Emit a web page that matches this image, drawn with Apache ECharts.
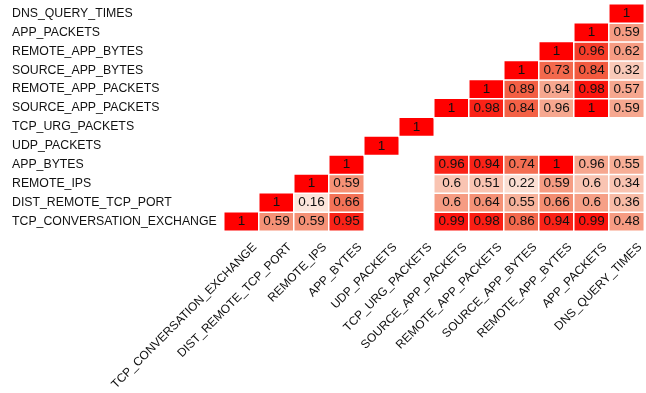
<!DOCTYPE html>
<html>
<head>
<meta charset="utf-8">
<script src="https://cdn.jsdelivr.net/npm/echarts@6/dist/echarts.min.js"></script>
<style>html,body{margin:0;padding:0;background:#fff;}#c{width:646px;height:393px;}</style>
</head>
<body>
<div id="c"></div>
<script>
// Variables, bottom (index 0) to top on the y axis, left to right on the x axis
const categories = [
  'TCP_CONVERSATION_EXCHANGE', 'DIST_REMOTE_TCP_PORT', 'REMOTE_IPS', 'APP_BYTES',
  'UDP_PACKETS', 'TCP_URG_PACKETS', 'SOURCE_APP_PACKETS', 'REMOTE_APP_PACKETS',
  'SOURCE_APP_BYTES', 'REMOTE_APP_BYTES', 'APP_PACKETS', 'DNS_QUERY_TIMES'
];

// Printed correlation per row (row index = y category), column index = x category; null = no cell
const corrTCP_CONV   = [1, 0.59, 0.59, 0.95, null, null, 0.99, 0.98, 0.86, 0.94, 0.99, 0.48];
const corrDIST_PORT  = [null, 1, 0.16, 0.66, null, null, 0.6, 0.64, 0.55, 0.66, 0.6, 0.36];
const corrREMOTE_IPS = [null, null, 1, 0.59, null, null, 0.6, 0.51, 0.22, 0.59, 0.6, 0.34];
const corrAPP_BYTES  = [null, null, null, 1, null, null, 0.96, 0.94, 0.74, 1, 0.96, 0.55];
const corrUDP        = [null, null, null, null, 1, null, null, null, null, null, null, null];
const corrTCP_URG    = [null, null, null, null, null, 1, null, null, null, null, null, null];
const corrSRC_PKTS   = [null, null, null, null, null, null, 1, 0.98, 0.84, 0.96, 1, 0.59];
const corrREM_PKTS   = [null, null, null, null, null, null, null, 1, 0.89, 0.94, 0.98, 0.57];
const corrSRC_BYTES  = [null, null, null, null, null, null, null, null, 1, 0.73, 0.84, 0.32];
const corrREM_BYTES  = [null, null, null, null, null, null, null, null, null, 1, 0.96, 0.62];
const corrAPP_PKTS   = [null, null, null, null, null, null, null, null, null, null, 1, 0.59];
const corrDNS        = [null, null, null, null, null, null, null, null, null, null, null, 1];

// Shading intensity of each cell (0 = white, 1 = full red)
const shadeTCP_CONV   = [1, 0.55, 0.55, 0.92, null, null, 0.95, 0.93, 0.72, 0.92, 0.95, 0.5];
const shadeDIST_PORT  = [null, 1, 0.1, 0.68, null, null, 0.5, 0.55, 0.4, 0.57, 0.48, 0.35];
const shadeREMOTE_IPS = [null, null, 1, 0.55, null, null, 0.3, 0.3, 0.14, 0.5, 0.3, 0.3];
const shadeAPP_BYTES  = [null, null, null, 1, null, null, 0.92, 0.92, 0.7, 1, 0.45, 0.42];
const shadeUDP        = [null, null, null, null, 1, null, null, null, null, null, null, null];
const shadeTCP_URG    = [null, null, null, null, null, 1, null, null, null, null, null, null];
const shadeSRC_PKTS   = [null, null, null, null, null, null, 1, 0.92, 0.75, 0.45, 1, 0.45];
const shadeREM_PKTS   = [null, null, null, null, null, null, null, 1, 0.76, 0.45, 0.95, 0.45];
const shadeSRC_BYTES  = [null, null, null, null, null, null, null, null, 1, 0.72, 0.78, 0.27];
const shadeREM_BYTES  = [null, null, null, null, null, null, null, null, null, 1, 0.86, 0.5];
const shadeAPP_PKTS   = [null, null, null, null, null, null, null, null, null, null, 1, 0.5];
const shadeDNS        = [null, null, null, null, null, null, null, null, null, null, null, 1];

// Undefined (NaN) cells drawn as faint tiles: [x index, y index]
const nanCells = [[4,0],[4,1],[4,2],[4,3],[6,4],[7,4],[8,4],[9,4],[10,4],[11,4]];

const corrRows = [corrTCP_CONV, corrDIST_PORT, corrREMOTE_IPS, corrAPP_BYTES, corrUDP, corrTCP_URG,
  corrSRC_PKTS, corrREM_PKTS, corrSRC_BYTES, corrREM_BYTES, corrAPP_PKTS, corrDNS];
const shadeRows = [shadeTCP_CONV, shadeDIST_PORT, shadeREMOTE_IPS, shadeAPP_BYTES, shadeUDP, shadeTCP_URG,
  shadeSRC_PKTS, shadeREM_PKTS, shadeSRC_BYTES, shadeREM_BYTES, shadeAPP_PKTS, shadeDNS];

const cells = [];
corrRows.forEach((row, y) => {
  row.forEach((v, x) => {
    if (v !== null) cells.push([x, y, v, shadeRows[y][x]]);
  });
});

const FONT = 'Liberation Sans';
const chart = echarts.init(document.getElementById('c'), null, {renderer: 'canvas'});
chart.setOption({
  animation: false,
  backgroundColor: '#ffffff',
  grid: {left: 224, top: 4, width: 428, height: 234},
  xAxis: {
    type: 'category', data: categories,
    axisLine: {show: false}, axisTick: {show: false}, splitLine: {show: false},
    axisLabel: {
      rotate: 45, margin: 1, verticalAlign: 'top', padding: [13, 0, 0, 0],
      color: '#111', fontFamily: FONT, fontSize: 12, interval: 0
    }
  },
  yAxis: {
    type: 'category', data: categories,
    axisLine: {show: false}, axisTick: {show: false}, splitLine: {show: false},
    axisLabel: {align: 'left', margin: 212, color: '#111', fontFamily: FONT, fontSize: 12.3, interval: 0}
  },
  visualMap: {
    show: false, type: 'continuous', dimension: 3, min: 0, max: 1, seriesIndex: 0,
    inRange: {color: ['#fdf3ee', '#fad6c8', '#f7b29b', '#f4866a', '#f3553a', '#ff0000']}
  },
  series: [
    {
      type: 'heatmap',
      data: cells,
      encode: {x: 0, y: 1},
      itemStyle: {borderColor: '#ffffff', borderWidth: 1.5},
      label: {
        show: true, color: '#111', fontFamily: FONT, fontSize: 13.5,
        formatter: p => String(p.value[2])
      },
      emphasis: {disabled: true}
    },
    {
      type: 'heatmap',
      data: nanCells,
      itemStyle: {color: '#fbf8fc', borderColor: '#ffffff', borderWidth: 1.5},
      label: {show: false},
      emphasis: {disabled: true}
    }
  ]
});
</script>
</body>
</html>
